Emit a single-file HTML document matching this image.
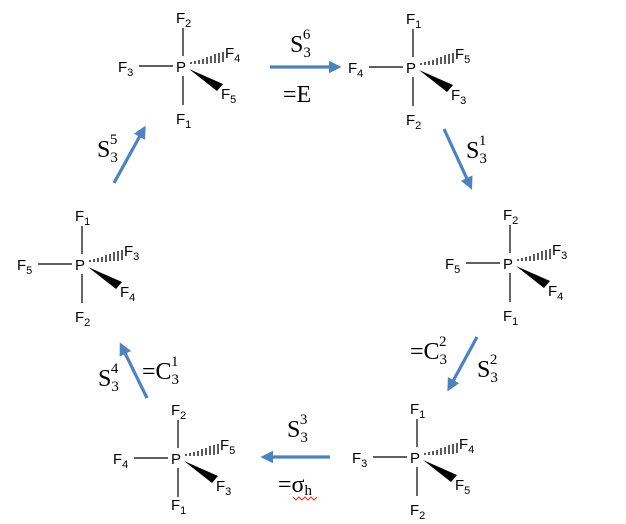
<!DOCTYPE html>
<html><head><meta charset="utf-8"><style>
html,body{margin:0;padding:0;background:#fff;}
svg{display:block;}
.f{font-family:"Liberation Sans",sans-serif;font-size:15px;fill:#000;}
.s{font-size:11px;}
.m{font-family:"Liberation Serif",serif;font-size:24px;fill:#000;}
.ms{font-size:15px;}
</style></head><body>
<svg width="626" height="524" viewBox="0 0 626 524">
<defs>
<g id="sk">
<line x1="2" y1="-38" x2="2" y2="-10" stroke="#000" stroke-width="1.2"/>
<line x1="2" y1="10" x2="2" y2="39" stroke="#000" stroke-width="1.2"/>
<line x1="-42" y1="0" x2="-8" y2="0" stroke="#000" stroke-width="1.2"/>
<g stroke="#000" stroke-width="1.3">
<line x1="10" y1="-4" x2="10" y2="-2"/><line x1="14" y1="-5" x2="14" y2="-2"/>
<line x1="18" y1="-6" x2="18" y2="-2"/><line x1="22" y1="-7" x2="22" y2="-2"/>
<line x1="26" y1="-9" x2="26" y2="-2"/><line x1="30" y1="-10" x2="30" y2="-3"/>
<line x1="34" y1="-12" x2="34" y2="-3"/><line x1="38" y1="-13" x2="38" y2="-3"/>
<line x1="42" y1="-14" x2="42" y2="-4"/>
</g>
<polygon points="8,3 36,25 42,18" fill="#000"/>
<text x="0" y="6" text-anchor="middle" class="f">P</text>
</g>
<marker id="ah" markerWidth="4" markerHeight="4" refX="1" refY="2" orient="auto" markerUnits="strokeWidth">
<path d="M0,0 L4,2 L0,4 z" fill="#4f81bd"/></marker>
</defs>

<g transform="translate(181,66)"><use href="#sk"/>
<text class="f" x="-5" y="-43">F<tspan class="s" dy="4">2</tspan></text>
<text class="f" x="-5" y="58">F<tspan class="s" dy="4">1</tspan></text>
<text class="f" x="-63" y="6">F<tspan class="s" dy="4">3</tspan></text>
<text class="f" x="44" y="-8">F<tspan class="s" dy="4">4</tspan></text>
<text class="f" x="40" y="33">F<tspan class="s" dy="4">5</tspan></text></g>
<g transform="translate(411,67)"><use href="#sk"/>
<text class="f" x="-5" y="-43">F<tspan class="s" dy="4">1</tspan></text>
<text class="f" x="-5" y="58">F<tspan class="s" dy="4">2</tspan></text>
<text class="f" x="-63" y="6">F<tspan class="s" dy="4">4</tspan></text>
<text class="f" x="44" y="-8">F<tspan class="s" dy="4">5</tspan></text>
<text class="f" x="40" y="33">F<tspan class="s" dy="4">3</tspan></text></g>
<g transform="translate(508,263)"><use href="#sk"/>
<text class="f" x="-5" y="-43">F<tspan class="s" dy="4">2</tspan></text>
<text class="f" x="-5" y="58">F<tspan class="s" dy="4">1</tspan></text>
<text class="f" x="-63" y="6">F<tspan class="s" dy="4">5</tspan></text>
<text class="f" x="44" y="-8">F<tspan class="s" dy="4">3</tspan></text>
<text class="f" x="40" y="33">F<tspan class="s" dy="4">4</tspan></text></g>
<g transform="translate(80,264)"><use href="#sk"/>
<text class="f" x="-5" y="-43">F<tspan class="s" dy="4">1</tspan></text>
<text class="f" x="-5" y="58">F<tspan class="s" dy="4">2</tspan></text>
<text class="f" x="-63" y="6">F<tspan class="s" dy="4">5</tspan></text>
<text class="f" x="44" y="-8">F<tspan class="s" dy="4">3</tspan></text>
<text class="f" x="40" y="33">F<tspan class="s" dy="4">4</tspan></text></g>
<g transform="translate(415,457)"><use href="#sk"/>
<text class="f" x="-5" y="-43">F<tspan class="s" dy="4">1</tspan></text>
<text class="f" x="-5" y="58">F<tspan class="s" dy="4">2</tspan></text>
<text class="f" x="-63" y="6">F<tspan class="s" dy="4">3</tspan></text>
<text class="f" x="44" y="-8">F<tspan class="s" dy="4">4</tspan></text>
<text class="f" x="40" y="33">F<tspan class="s" dy="4">5</tspan></text></g>
<g transform="translate(176,458)"><use href="#sk"/>
<text class="f" x="-5" y="-43">F<tspan class="s" dy="4">2</tspan></text>
<text class="f" x="-5" y="52">F<tspan class="s" dy="4">1</tspan></text>
<text class="f" x="-63" y="6">F<tspan class="s" dy="4">4</tspan></text>
<text class="f" x="44" y="-8">F<tspan class="s" dy="4">5</tspan></text>
<text class="f" x="40" y="33">F<tspan class="s" dy="4">3</tspan></text></g>

<g stroke="#4f81bd" stroke-width="3.2" marker-end="url(#ah)">
<line x1="270" y1="67" x2="332" y2="67"/>
<line x1="444" y1="129" x2="468" y2="181"/>
<line x1="477" y1="337" x2="452" y2="383"/>
<line x1="330" y1="457" x2="270" y2="457"/>
<line x1="147" y1="398" x2="124" y2="351"/>
<line x1="114" y1="183" x2="141" y2="134"/>
</g>

<text class="m" x="290" y="52">S<tspan class="ms" dy="5">3</tspan><tspan class="ms" dx="-8" dy="-18">6</tspan></text>
<text class="m" x="283" y="102">=E</text>
<text class="m" x="466" y="158">S<tspan class="ms" dy="5">3</tspan><tspan class="ms" dx="-8" dy="-18">1</tspan></text>
<text class="m" x="410" y="359">=C<tspan class="ms" dy="5">3</tspan><tspan class="ms" dx="-8" dy="-18">2</tspan></text>
<text class="m" x="477" y="377">S<tspan class="ms" dy="5">3</tspan><tspan class="ms" dx="-8" dy="-18">2</tspan></text>
<text class="m" x="287" y="437">S<tspan class="ms" dy="5">3</tspan><tspan class="ms" dx="-8" dy="-18">3</tspan></text>
<text class="m" x="278" y="492">=σ<tspan class="ms" dy="3">h</tspan></text>
<path d="M293,497 l3,3 l3,-3 l3,3 l3,-3 l3,3 l3,-3 l3,3 l3,-3" fill="none" stroke="#e03030" stroke-width="1"/>
<text class="m" x="98" y="386">S<tspan class="ms" dy="5">3</tspan><tspan class="ms" dx="-8" dy="-18">4</tspan></text>
<text class="m" x="142" y="379">=C<tspan class="ms" dy="5">3</tspan><tspan class="ms" dx="-8" dy="-18">1</tspan></text>
<text class="m" x="97" y="157">S<tspan class="ms" dy="5">3</tspan><tspan class="ms" dx="-8" dy="-18">5</tspan></text>
</svg>
</body></html>
